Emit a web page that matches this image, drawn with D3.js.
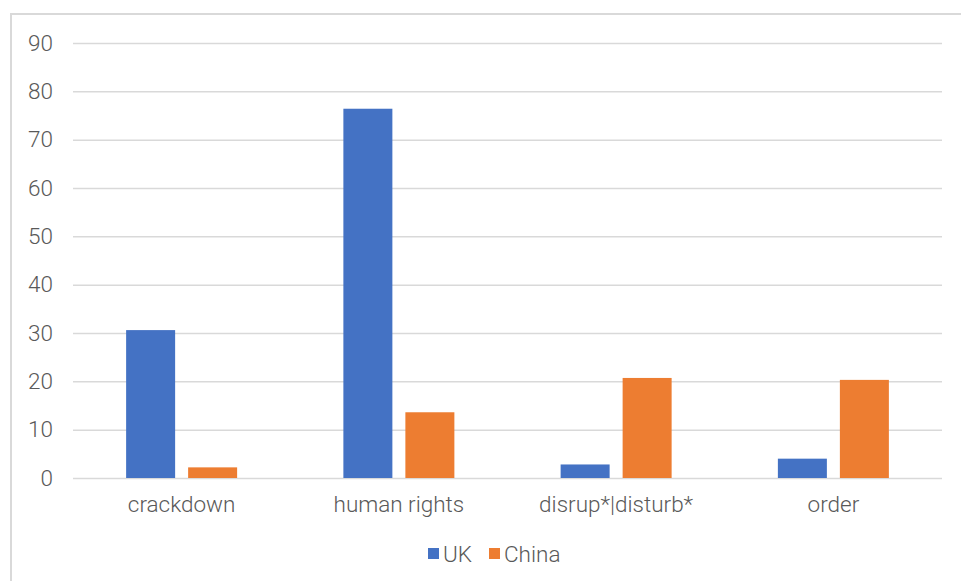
<!DOCTYPE html>
<html>
<head>
<meta charset="utf-8">
<script src="https://cdn.jsdelivr.net/npm/d3@7"></script>
<style>
  html, body { margin: 0; padding: 0; background: #fff; }
  svg { display: block; }
  text { font-family: Roboto, "Noto Sans", sans-serif; font-weight: 300; fill: #595959; }
</style>
</head>
<body>
<svg id="chart" width="961" height="581"></svg>
<script>
// Term frequencies by outlet
const categories = ["crackdown", "human rights", "disrup*|disturb*", "order"];
const seriesNames = ["UK", "China"];
const ukValues = [30.6, 76.4, 2.8, 4.0];
const chinaValues = [2.2, 13.6, 20.7, 20.3];
const yTicks = [0, 10, 20, 30, 40, 50, 60, 70, 80, 90];
const colors = ["#4472C4", "#ED7D31"];

const svg = d3.select("#chart");
const plot = { left: 73, right: 942, top: 43, bottom: 478 };
const fontFamily = "Roboto, 'Noto Sans', sans-serif";
const fontSize = 22.5;

// chart frame
svg.append("rect")
  .attr("x", 11).attr("y", 14)
  .attr("width", 962).attr("height", 600)
  .attr("fill", "none").attr("stroke", "#d9d9d9").attr("stroke-width", 2);

const y = d3.scaleLinear().domain([0, 90]).range([plot.bottom, plot.top]);
const x0 = d3.scaleBand().domain(categories).range([plot.left, plot.right]);
const groupW = 111;
const x1 = d3.scaleBand().domain(seriesNames)
  .range([(x0.bandwidth() - groupW) / 2, (x0.bandwidth() + groupW) / 2])
  .paddingInner(13 / 62);

// gridlines + y labels
const yAxis = d3.axisLeft(y).tickValues(yTicks).tickSize(-(plot.right - plot.left)).tickPadding(20);
const gy = svg.append("g").attr("transform", `translate(${plot.left},0)`).call(yAxis);
gy.select(".domain").remove();
gy.selectAll(".tick line").attr("stroke", "#d9d9d9").attr("stroke-width", 1.5);
gy.selectAll(".tick text").attr("font-size", fontSize).attr("fill", "#595959")
  .style("font-family", fontFamily).style("font-weight", 300);

// bars
const rows = categories.map((c, i) => ({ cat: c, vals: [ukValues[i], chinaValues[i]] }));
const groups = svg.append("g").selectAll("g").data(rows).join("g")
  .attr("transform", d => `translate(${x0(d.cat)},0)`);
groups.selectAll("rect")
  .data(d => d.vals.map((v, k) => ({ key: seriesNames[k], v, k })))
  .join("rect")
  .attr("x", d => x1(d.key))
  .attr("width", x1.bandwidth())
  .attr("y", d => y(d.v))
  .attr("height", d => y(0) - y(d.v))
  .attr("fill", d => colors[d.k]);

// category axis labels
const xAxis = d3.axisBottom(x0).tickSize(0).tickPadding(18);
const gx = svg.append("g").attr("transform", `translate(0,${plot.bottom})`).call(xAxis);
gx.select(".domain").remove();
gx.selectAll(".tick text").attr("font-size", fontSize).attr("fill", "#595959")
  .style("font-family", fontFamily).style("font-weight", 300);

// legend
const legend = svg.append("g");
const legendX = [428, 489];
seriesNames.forEach((name, k) => {
  legend.append("rect")
    .attr("x", legendX[k]).attr("y", 548)
    .attr("width", 11).attr("height", 11)
    .attr("fill", colors[k]);
  legend.append("text")
    .attr("x", legendX[k] + 15).attr("y", 562)
    .attr("font-size", fontSize)
    .text(name);
});
</script>
</body>
</html>
